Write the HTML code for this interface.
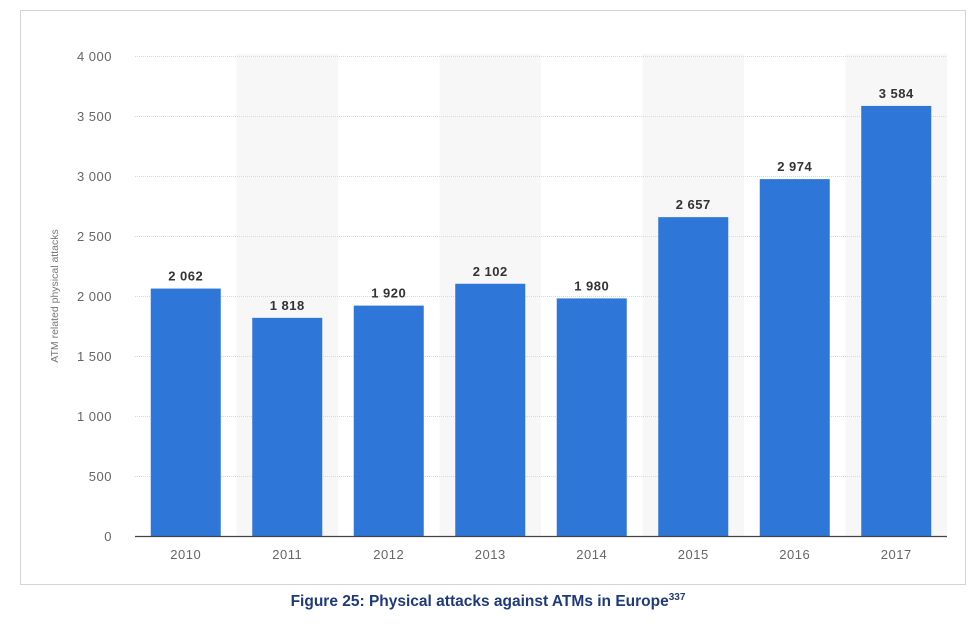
<!DOCTYPE html>
<html><head><meta charset="utf-8"><style>
body{margin:0;background:#fff;width:980px;height:631px;overflow:hidden;font-family:"Liberation Sans",sans-serif}
</style></head><body>
<svg width="980" height="631">
<rect x="20.5" y="10.5" width="945" height="574" fill="#fff" stroke="#d4d4d4"/>
<g id="bands"></g><g id="grid"></g><g id="bars"></g><g id="labels"></g>
<line x1="135" y1="536.5" x2="947" y2="536.5" stroke="#444" stroke-width="1.2"/>
<text transform="translate(58,296) rotate(-90)" text-anchor="middle" font-size="10.5" fill="#777">ATM related physical attacks</text>
<text x="488" y="606" text-anchor="middle" font-size="15.5" font-weight="bold" fill="#1f3a7a">Figure 25: Physical attacks against ATMs in Europe<tspan font-size="10" dy="-6">337</tspan></text>
</svg>
<script>
const categories=["2010","2011","2012","2013","2014","2015","2016","2017"];
const values=[2062,1818,1920,2102,1980,2657,2974,3584];
const valueLabels=["2 062","1 818","1 920","2 102","1 980","2 657","2 974","3 584"];
const yTicks=[0,500,1000,1500,2000,2500,3000,3500,4000];
const yTickLabels=["0","500","1 000","1 500","2 000","2 500","3 000","3 500","4 000"];
const NS="http://www.w3.org/2000/svg";
const x0=135,x1=947,yBase=536,yTop=56,yMax=4000;
const bw=(x1-x0)/categories.length;
const y=v=>yBase-(v/yMax)*(yBase-yTop);
const xc=i=>x0+bw*(i+0.5);
function mk(tag,attrs,parent){const e=document.createElementNS(NS,tag);for(const k in attrs)e.setAttribute(k,attrs[k]);document.getElementById(parent).appendChild(e);return e;}
categories.forEach((c,i)=>{
 if(i%2===1){const b=mk('rect',{x:x0+bw*i,y:yTop-2,width:bw,height:yBase-yTop+2,fill:'#f7f7f7'},'bands');
  
  }
});
yTicks.forEach((t,i)=>{
 if(t>0){const l=mk('line',{x1:x0,x2:x1,y1:y(t)+0.5,y2:y(t)+0.5,stroke:'#d8d8d8','stroke-dasharray':'1,1'},'grid');
  
  }
 const tx=mk('text',{x:112,y:y(t)+5,'text-anchor':'end','font-size':'13',fill:'#666','letter-spacing':'0.5'},'labels');
 tx.textContent=yTickLabels[i];
 
 
});
categories.forEach((c,i)=>{
 const r=mk('rect',{x:xc(i)-35,y:y(values[i]),width:70,height:yBase-y(values[i]),fill:'#2e77d8'},'bars');
 
 
 const v=mk('text',{x:xc(i),y:y(values[i])-8,'text-anchor':'middle','font-size':'13','font-weight':'bold',fill:'#333','letter-spacing':'0.5'},'labels');
 v.textContent=valueLabels[i];
 
 
 const t=mk('text',{x:xc(i),y:559,'text-anchor':'middle','font-size':'13',fill:'#666','letter-spacing':'0.5'},'labels');
 t.textContent=c;
 
 
});
</script>
</body></html>
